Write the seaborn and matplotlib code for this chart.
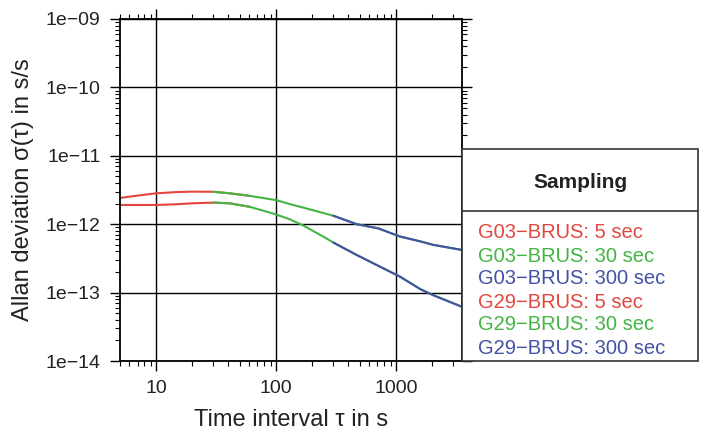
import matplotlib
matplotlib.use("Agg")
import matplotlib.pyplot as plt
from matplotlib.patches import Rectangle
from matplotlib.lines import Line2D
import pandas as pd
import seaborn as sns

# Data (tau in s, Allan deviation in s/s)
tau_5s = [5, 7, 10, 15, 20, 30, 41, 60]
g03_5s = [2.42e-12, 2.62e-12, 2.83e-12, 2.95e-12, 2.99e-12, 2.98e-12, 2.83e-12, 2.60e-12]
g29_5s = [1.91e-12, 1.91e-12, 1.91e-12, 1.96e-12, 2.02e-12, 2.07e-12, 2.02e-12, 1.80e-12]

tau_30s = [30, 41, 60, 100, 130, 168, 247, 300, 470, 710, 1080, 1600, 2030, 3550]
g03_30s = [2.98e-12, 2.83e-12, 2.60e-12, 2.25e-12, 1.97e-12, 1.75e-12, 1.46e-12, 1.33e-12,
           1.0e-12, 8.7e-13, 6.6e-13, 5.6e-13, 5.0e-13, 4.2e-13]
g29_30s = [2.07e-12, 2.02e-12, 1.80e-12, 1.39e-12, 1.18e-12, 9.6e-13, 6.6e-13, 5.4e-13,
           3.55e-13, 2.47e-13, 1.71e-13, 1.12e-13, 9.2e-14, 6.2e-14]

tau_300s = [300, 470, 710, 1080, 1600, 2030, 3550]
g03_300s = [1.33e-12, 1.0e-12, 8.7e-13, 6.6e-13, 5.6e-13, 5.0e-13, 4.2e-13]
g29_300s = [5.4e-13, 3.55e-13, 2.47e-13, 1.71e-13, 1.12e-13, 9.2e-14, 6.2e-14]

x_ticks = [10, 100, 1000]
x_labels = ["10", "100", "1000"]
y_ticks = [1e-14, 1e-13, 1e-12, 1e-11, 1e-10, 1e-9]
y_labels = ["1e\u221214", "1e\u221213", "1e\u221212", "1e\u221211", "1e\u221210", "1e\u221209"]

legend_labels = ["G03\u2212BRUS: 5 sec", "G03\u2212BRUS: 30 sec", "G03\u2212BRUS: 300 sec",
                 "G29\u2212BRUS: 5 sec", "G29\u2212BRUS: 30 sec", "G29\u2212BRUS: 300 sec"]

red, green, blue = "#e2473f", "#44b544", "#4352a6"
legend_colors = [red, green, blue, red, green, blue]

sns.set_style("ticks")
plt.rcParams["font.family"] = ["Liberation Sans", "DejaVu Sans"]

fig = plt.figure(figsize=(7.11, 4.33), dpi=100)
ax = fig.add_axes([120 / 711, 1 - 361 / 433, 342 / 711, 342 / 433])

# red first, green over it, blue on top
series = [
    (tau_5s, g03_5s, red), (tau_5s, g29_5s, red),
    (tau_30s, g03_30s, green), (tau_30s, g29_30s, green),
    (tau_300s, g03_300s, blue), (tau_300s, g29_300s, blue),
]
for tau, vals, col in series:
    df = pd.DataFrame({"tau": tau, "adev": vals})
    sns.lineplot(data=df, x="tau", y="adev", color=col, linewidth=1.5,
                 estimator=None, sort=True, ax=ax)

ax.set_xscale("log")
ax.set_yscale("log")
ax.set_xlim(5, 3550)
ax.set_ylim(1e-14, 1e-9)
ax.set_xticks(x_ticks)
ax.set_xticklabels(x_labels)
ax.set_yticks(y_ticks)
ax.set_yticklabels(y_labels)
ax.grid(which="major", color="black", linewidth=1.0)
ax.set_axisbelow(True)
ax.tick_params(which="both", direction="out", top=True, right=True,
               labeltop=False, labelright=False, color="black",
               labelsize=14, labelcolor="#222222")
ax.tick_params(which="major", length=7, width=1.0, pad=7)
ax.tick_params(which="minor", length=3.5, width=0.8)
for sp in ax.spines.values():
    sp.set_color("black")
    sp.set_linewidth(1.3)

ax.set_xlabel("Time interval \u03c4 in s", fontsize=17, labelpad=8, color="#222222")
ax.set_ylabel("Allan deviation \u03c3(\u03c4) in s/s", fontsize=17, labelpad=8, color="#222222")

# legend box drawn by hand
x0, x1 = 462 / 711, 698 / 711
ytop, ysep, ybot = 1 - 149 / 433, 1 - 211 / 433, 1 - 361 / 433
fig.add_artist(Rectangle((x0, ybot), x1 - x0, ytop - ybot, transform=fig.transFigure,
                         facecolor="white", edgecolor="#333333", linewidth=1.2, zorder=5))
fig.add_artist(Line2D([x0, x1], [ysep, ysep], transform=fig.transFigure,
                      color="#333333", linewidth=1.2, zorder=6))
fig.text((x0 + x1) / 2, 1 - 182 / 433, "Sampling", ha="center", va="center",
         fontsize=15, fontweight="bold", color="#222222", zorder=7)
for i, (lab, col) in enumerate(zip(legend_labels, legend_colors)):
    fig.text(478 / 711, 1 - (233 + 23 * i) / 433, lab, ha="left", va="center",
             fontsize=14.5, color=col, zorder=7)

fig.savefig("out.png", dpi=100)
